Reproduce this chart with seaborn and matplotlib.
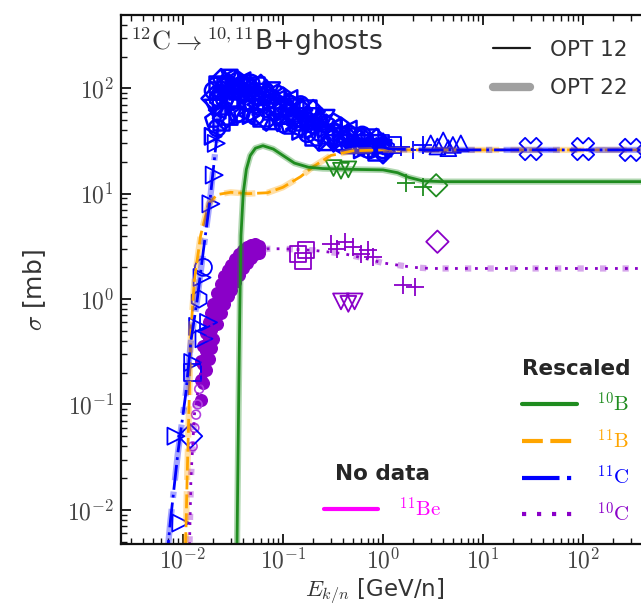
import numpy as np
import pandas as pd
import matplotlib
matplotlib.use("Agg")
import matplotlib.pyplot as plt
import matplotlib.ticker as mticker
import seaborn as sns
from matplotlib.lines import Line2D

sns.set_theme(style="ticks")
plt.rcParams["font.family"] = ["DejaVu Sans"]
plt.rcParams["mathtext.fontset"] = "cm"

# ---------------- data ----------------
# model curves
b10_x = [0.0345, 0.035, 0.036, 0.037, 0.038, 0.040, 0.043, 0.047, 0.053, 0.063, 0.08, 0.1, 0.13, 0.18, 0.25, 0.5, 1.0, 1.4, 1.8, 2.5, 4.0, 10, 100, 1000]
b10_y = [0.003, 0.01, 0.1, 0.8, 4.0, 10.0, 17.0, 23.0, 27.0, 28.5, 26.5, 23.0, 19.5, 17.8, 17.3, 17.0, 16.8, 15.8, 14.3, 13.2, 13.0, 13.0, 13.0, 13.0]

b11_x = [0.0105, 0.011, 0.0115, 0.012, 0.013, 0.015, 0.018, 0.022, 0.03, 0.045, 0.07, 0.1, 0.15, 0.2, 0.3, 0.5, 1.0, 10, 100, 1000]
b11_y = [0.003, 0.02, 0.1, 0.5, 1.5, 4.0, 8.0, 9.8, 10.3, 10.0, 10.2, 11.5, 14.5, 18.0, 23.0, 25.5, 26.0, 26.0, 26.0, 26.0]

c11_x = [0.0068, 0.0075, 0.0089, 0.0107, 0.012, 0.0138, 0.016, 0.0186, 0.021, 0.023, 0.03, 0.047, 0.093, 0.23, 0.59, 1.17, 3.0, 10, 100, 1000]
c11_y = [0.003, 0.008, 0.035, 0.13, 0.4, 0.95, 2.9, 8.6, 25.0, 55.0, 92.0, 100.0, 77.0, 50.0, 32.0, 26.5, 26.0, 26.0, 26.0, 26.0]

c10_x = [0.0115, 0.012, 0.013, 0.015, 0.018, 0.022, 0.03, 0.04, 0.05, 0.07, 0.1, 0.2, 0.4, 0.7, 1.0, 2.0, 3.0, 10, 100, 1000]
c10_y = [0.003, 0.02, 0.08, 0.2, 0.45, 0.85, 1.5, 2.2, 2.7, 3.0, 3.0, 2.9, 2.7, 2.4, 2.2, 2.0, 1.95, 1.95, 1.95, 1.95]

# 11C data: steep rise (triangles right)
c11_rise_x = [0.0085, 0.0095, 0.0125, 0.014, 0.0155, 0.0162, 0.018, 0.019, 0.0205, 0.0215]
c11_rise_y = [0.05, 0.0075, 0.25, 0.55, 1.6, 0.42, 0.6, 8.0, 15.0, 30.0]
# 11C data: other points on the rise
c11_low_x = [0.0118, 0.0145, 0.0125, 0.016]
c11_low_y = [0.05, 1.0, 0.2, 2.0]
c11_low_m = ["D", "h", "s", "o"]
# 11C data: dense cloud, five overlapping data sets on a common energy grid
cloud_x = [0.020, 0.022, 0.024, 0.026, 0.029, 0.032, 0.035, 0.039, 0.043, 0.048, 0.053,
           0.060, 0.068, 0.077, 0.088, 0.10, 0.115, 0.13, 0.15, 0.175, 0.20, 0.23,
           0.27, 0.32, 0.38, 0.45, 0.53, 0.62, 0.73, 0.86, 1.0]
cloud_y1 = [95, 110, 118, 122, 125, 124, 122, 118, 115, 112, 108, 104, 100, 95, 90, 85,
            80, 75, 70, 65, 60, 56, 52, 48, 44, 41, 38, 36, 34, 32, 31]
cloud_y2 = [80, 95, 105, 110, 112, 110, 108, 105, 102, 98, 95, 92, 88, 84, 80, 75,
            71, 67, 62, 58, 54, 50, 47, 43, 40, 37, 35, 33, 31, 30, 29]
cloud_y3 = [65, 80, 90, 95, 98, 96, 94, 92, 90, 86, 83, 80, 76, 72, 68, 65,
            61, 58, 54, 50, 47, 44, 41, 38, 35, 33, 31, 30, 29, 28, 27]
cloud_y4 = [50, 62, 72, 78, 82, 80, 78, 76, 74, 72, 70, 67, 64, 61, 58, 55,
            52, 49, 46, 43, 40, 38, 36, 33, 31, 30, 29, 28, 27, 26, 26]
cloud_y5 = [35, 42, 48, 52, 54, 55, 56, 56, 56, 55, 54, 53, 51, 49, 47, 45,
            43, 41, 39, 37, 35, 33, 31, 30, 29, 28, 27, 26, 26, 25, 25]
cloud_markers = ["o", "s", "D", "^", "v", "h", "p", "<", ">"]
# 11C data: high energy
c11_hi_x = [1.0, 1.1, 0.95, 1.25, 1.5, 2.0, 2.5, 3.0, 3.5, 4.0, 4.5, 5.0, 6.0]
c11_hi_y = [28.0, 27.0, 30.0, 29.0, 28.0, 26.0, 29.0, 30.0, 28.0, 32.0, 27.0, 29.0, 30.0]
c11_hi_m = ["h", "h", "s", "s", "+", "+", "+", "^", "^", "^", "^", "^", "^"]
c11_x_x = [30, 100, 300]
c11_x_y = [26.5, 26.5, 26.0]

# 10B data
b10_d_x = [0.32, 0.38, 0.45, 1.7, 2.5, 3.4]
b10_d_y = [17.5, 16.5, 17.0, 12.5, 11.5, 12.0]
b10_d_m = ["v", "v", "v", "+", "+", "D"]

# 10C data: dense band on the rise (three data sets)
c10_band_x = [0.015, 0.016, 0.017, 0.018, 0.019, 0.02, 0.022, 0.024,
              0.026, 0.028, 0.03, 0.033, 0.036, 0.04, 0.044, 0.048, 0.053, 0.058]
c10_band_y1 = [0.26, 0.36, 0.48, 0.6, 0.74, 0.9, 1.15, 1.4,
               1.65, 1.9, 2.1, 2.4, 2.65, 2.9, 3.1, 3.25, 3.3, 3.2]
c10_band_y2 = [0.17, 0.24, 0.32, 0.41, 0.51, 0.62, 0.82, 1.02,
               1.22, 1.42, 1.6, 1.88, 2.12, 2.42, 2.66, 2.86, 3.0, 3.0]
c10_band_y3 = [0.11, 0.16, 0.21, 0.27, 0.34, 0.42, 0.58, 0.74,
               0.9, 1.06, 1.22, 1.45, 1.68, 1.95, 2.2, 2.45, 2.65, 2.75]
# 10C data: sparse low points on the rise
c10_low_x = [0.0125, 0.013, 0.0135, 0.014, 0.0145]
c10_low_y = [0.04, 0.06, 0.08, 0.1, 0.14]
c10_d_x = [0.14, 0.17, 0.16, 0.3, 0.35, 0.42, 0.5, 0.6, 0.7, 0.8, 0.38, 0.45, 0.52, 1.6, 2.1, 3.5]
c10_d_y = [2.7, 2.9, 2.3, 3.3, 3.0, 3.5, 3.1, 2.7, 2.9, 2.5, 0.95, 0.9, 0.95, 1.35, 1.3, 3.5]
c10_d_m = ["s", "s", "s", "+", "+", "+", "+", "+", "+", "+", "v", "v", "v", "+", "+", "D"]

# legend texts
species_labels = [r"$^{10}\mathrm{B}$", r"$^{11}\mathrm{B}$", r"$^{11}\mathrm{C}$", r"$^{10}\mathrm{C}$"]
nodata_label = r"$^{11}\mathrm{Be}$"
opt_labels = ["OPT 12", "OPT 22"]
title_text = r"$^{12}\mathrm{C}\rightarrow{}^{10,11}$B+ghosts"

# ---------------- styles ----------------
GREEN = "#1f8c1f"
ORANGE = "#ffa500"
BLUE = "#0000ff"
PURPLE = "#8a00c8"
MAGENTA = "#ff00ff"
LS_B10 = "-"
LS_B11 = (0, (5, 1.8))
LS_C11 = (0, (9, 1.8, 1, 1.8))
LS_C10 = (0, (1, 2.6))

W, H = 641, 607
fig = plt.figure(figsize=(W / 100, H / 100), dpi=100)
L, R, T, B = 121, 665, 15, 544
ax = fig.add_axes([L / W, 1 - B / H, (R - L) / W, (B - T) / H])
ax.set_xscale("log")
ax.set_yscale("log")


def curve(x, y, color, ls):
    df = pd.DataFrame({"x": x, "y": y})
    sns.lineplot(data=df, x="x", y="y", ax=ax, color=color, lw=4.5, alpha=0.35,
                 linestyle=ls, sort=False, estimator=None)
    sns.lineplot(data=df, x="x", y="y", ax=ax, color=color, lw=2.0,
                 linestyle=ls, sort=False, estimator=None)


def points(x, y, m, color, s=130, lw=1.3):
    df = pd.DataFrame({"x": x, "y": y, "m": m})
    for mk, g in df.groupby("m", sort=False):
        if mk in ["+", "x"]:
            sns.scatterplot(data=g, x="x", y="y", ax=ax, marker=mk, color=color,
                            s=s * 1.4, linewidth=lw, legend=False)
        else:
            sns.scatterplot(data=g, x="x", y="y", ax=ax, marker=mk, facecolor="none",
                            edgecolor=color, s=s, linewidth=lw, legend=False)


# curves
curve(c10_x, c10_y, PURPLE, LS_C10)
curve(b11_x, b11_y, ORANGE, LS_B11)
curve(c11_x, c11_y, BLUE, LS_C11)
curve(b10_x, b10_y, GREEN, LS_B10)

# data points
for yy in (c10_band_y1, c10_band_y2, c10_band_y3):
    band = pd.DataFrame({"x": c10_band_x, "y": yy})
    sns.scatterplot(data=band, x="x", y="y", ax=ax, marker="o", color=PURPLE, s=70,
                    linewidth=1.0, edgecolor=PURPLE, legend=False)
points(c10_low_x, c10_low_y, ["o"] * len(c10_low_x), "#b040e0", s=40, lw=1.2)
points(c10_d_x, c10_d_y, c10_d_m, PURPLE)
points(b10_d_x, b10_d_y, b10_d_m, GREEN)
for k, yy in enumerate((cloud_y1, cloud_y2, cloud_y3, cloud_y4, cloud_y5)):
    mk = [cloud_markers[(i + 2 * k) % len(cloud_markers)] for i in range(len(cloud_x))]
    points(cloud_x, yy, mk, BLUE, s=140, lw=1.8)
points(c11_rise_x, c11_rise_y, [">"] * len(c11_rise_x), BLUE, s=150)
points(c11_low_x, c11_low_y, c11_low_m, BLUE, s=150)
points(c11_hi_x, c11_hi_y, c11_hi_m, BLUE)
points(c11_x_x, c11_x_y, ["X"] * len(c11_x_x), BLUE, s=260)

# axes formatting
ax.set_xlim(10 ** -2.62, 10 ** (-2.62 + (R - L) / 100))
ax.set_ylim(10 ** -2.324, 10 ** 2.695)
ax.tick_params(which="both", direction="in", top=True, right=True, labelsize=17,
               colors="#111111", labelcolor="#444444")
ax.tick_params(which="major", length=7, width=1.3)
ax.tick_params(which="minor", length=4, width=1.0)
ax.tick_params(axis="x", pad=3)
ax.tick_params(axis="y", pad=5)
fmt = mticker.FuncFormatter(lambda v, p: r"$10^{%d}$" % int(round(np.log10(v))))
for axis in (ax.xaxis, ax.yaxis):
    axis.set_major_locator(mticker.LogLocator(base=10, numticks=20))
    axis.set_minor_locator(mticker.LogLocator(base=10, subs=np.arange(2, 10), numticks=20))
    axis.set_major_formatter(fmt)
    axis.set_minor_formatter(mticker.NullFormatter())
for sp in ax.spines.values():
    sp.set_linewidth(1.6)
    sp.set_color("#111111")

ax.set_xlabel(r"$E_{k/n}$ [GeV/n]", fontsize=16.5, color="#333333")
ax.set_ylabel(r"$\sigma$ [mb]", fontsize=18, color="#333333")
ax.xaxis.set_label_coords((375 - L) / (R - L), -(576 - B) / (B - T))
ax.yaxis.set_label_coords(-(121 - 48) / (R - L), (B - 290) / (B - T))

ax.text((130 - L) / (R - L), 1 - (42 - T) / (B - T), title_text, transform=ax.transAxes,
        fontsize=19, color="#333333", va="center", ha="left")

# legends
h_opt = [Line2D([], [], color="k", lw=1.6), Line2D([], [], color="#888888", lw=6, alpha=0.8)]
leg1 = fig.legend(h_opt, opt_labels, loc="upper left", bbox_to_anchor=(493 / W, 1 - 40 / H),
                  frameon=False, fontsize=15.5, handlelength=1.72, handletextpad=0.93,
                  labelspacing=0.84, borderpad=0, borderaxespad=0, labelcolor="#333333")

h_sp = [Line2D([], [], color=GREEN, lw=3, ls=LS_B10),
        Line2D([], [], color=ORANGE, lw=3, ls=LS_B11),
        Line2D([], [], color=BLUE, lw=3, ls=LS_C11),
        Line2D([], [], color=PURPLE, lw=3, ls=LS_C10)]
leg2 = fig.legend(h_sp, species_labels, loc="upper left", bbox_to_anchor=(522 / W, 1 - 359 / H),
                  frameon=False, fontsize=15, handlelength=2.6, handletextpad=1.0,
                  labelspacing=0.6, borderpad=0, borderaxespad=0,
                  labelcolor=[GREEN, ORANGE, BLUE, PURPLE],
                  title="Rescaled", title_fontproperties={"weight": "bold", "size": 15.5})

h_nd = [Line2D([], [], color=MAGENTA, lw=3)]
leg3 = fig.legend(h_nd, [nodata_label], loc="upper left", bbox_to_anchor=(324 / W, 1 - 464 / H),
                  frameon=False, fontsize=15, handlelength=2.6, handletextpad=1.0,
                  labelspacing=0.6, borderpad=0, borderaxespad=0, labelcolor=[MAGENTA],
                  title="No data", title_fontproperties={"weight": "bold", "size": 15.5})

fig.savefig("out.png", dpi=100)
